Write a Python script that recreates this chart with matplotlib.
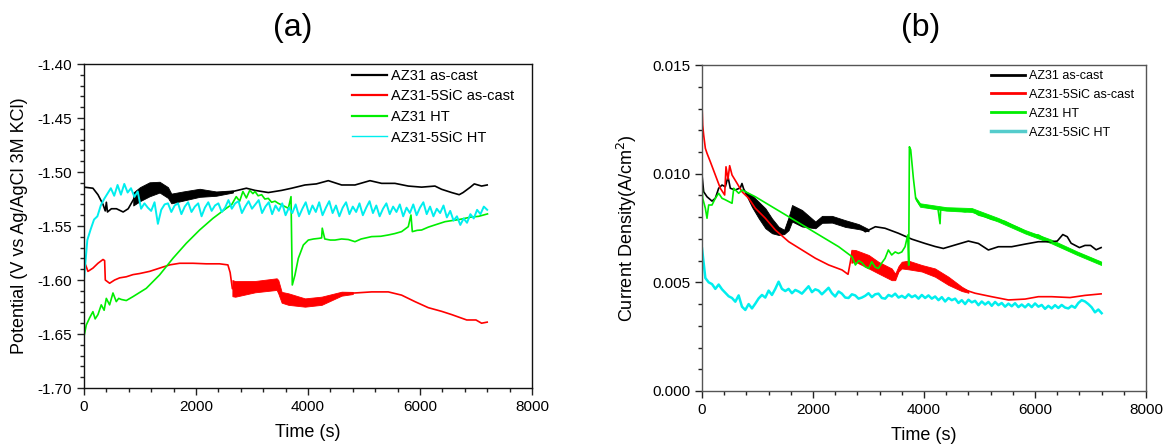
import numpy as np
import matplotlib
matplotlib.use('Agg')
from matplotlib import pyplot as plt, ticker
from matplotlib.lines import Line2D

plt.rcParams['font.family'] = ['Liberation Sans', 'DejaVu Sans']
plt.rcParams['axes.unicode_minus'] = False

labels = ['AZ31 as-cast', 'AZ31-5SiC as-cast', 'AZ31 HT', 'AZ31-5SiC HT']
colors = ['#000000', '#ff0000', '#00ee00', '#00eeee']

# ---------- (a) open circuit potential ----------
a_black_t = [0, 160, 250, 340, 380, 400, 420, 490, 580, 700, 790, 900, 1000, 1170, 1350,
             1500, 1560, 1770, 2065, 2360, 2660, 2900, 3054, 3292, 3530, 3708, 3946, 4150,
             4363, 4601, 4839, 5107, 5315, 5553, 5791, 6029, 6267, 6386, 6565, 6700, 6770,
             6900, 6970, 7100, 7200]
a_black_v = [-1.514, -1.515, -1.521, -1.530, -1.536, -1.528, -1.537, -1.534, -1.534, -1.537,
             -1.534, -1.524, -1.521, -1.516, -1.514, -1.519, -1.524, -1.522, -1.519, -1.520,
             -1.518, -1.515, -1.517, -1.519, -1.517, -1.515, -1.512, -1.511, -1.508, -1.512,
             -1.512, -1.508, -1.5105, -1.5105, -1.513, -1.514, -1.513, -1.516, -1.519, -1.521,
             -1.519, -1.514, -1.511, -1.513, -1.512]
a_black_band_t = [880, 1000, 1170, 1350, 1500, 1560, 1770, 2065, 2360, 2660]
a_black_band_lo = [-1.531, -1.527, -1.5225, -1.519, -1.524, -1.529, -1.5265, -1.523, -1.522, -1.519]
a_black_band_hi = [-1.519, -1.514, -1.5095, -1.509, -1.514, -1.520, -1.518, -1.5155, -1.518, -1.517]

a_red_t = [0, 30, 71, 160, 250, 340, 369, 381, 458, 547, 637, 756, 875, 994, 1172, 1350,
           1529, 1708, 1946, 2184, 2422, 2570, 2610, 2650, 2660, 3054, 3441, 3480, 3530,
           3650, 3946, 4244, 4601, 4839, 5137, 5434, 5672, 5910, 6148, 6386, 6565, 6835,
           7000, 7100, 7200]
a_red_v = [-1.589, -1.586, -1.592, -1.589, -1.5845, -1.581, -1.582, -1.600, -1.603, -1.600,
           -1.598, -1.597, -1.595, -1.594, -1.592, -1.589, -1.586, -1.5845, -1.5845, -1.585,
           -1.585, -1.586, -1.593, -1.608, -1.608, -1.606, -1.604, -1.610, -1.616, -1.6175,
           -1.621, -1.619, -1.6125, -1.612, -1.611, -1.611, -1.614, -1.620, -1.6256, -1.629,
           -1.632, -1.637, -1.637, -1.640, -1.639]
a_red_band_t = [2650, 2700, 3054, 3441, 3470, 3530, 3650, 3946, 4244, 4601, 4800]
a_red_band_lo = [-1.615, -1.6155, -1.6114, -1.6092, -1.6125, -1.621, -1.623, -1.6247, -1.623,
                 -1.6145, -1.613]
a_red_band_hi = [-1.600, -1.601, -1.6009, -1.5984, -1.600, -1.611, -1.6123, -1.617, -1.6154,
                 -1.6108, -1.611]

a_green_t = [0, 42, 101, 160, 200, 250, 309, 360, 399, 458, 518, 577, 620, 666, 756, 875,
             1113, 1350, 1589, 1827, 2065, 2303, 2541, 2640, 2719, 2780, 2838, 2900, 2960,
             3017, 3054, 3110, 3173, 3230, 3292, 3350, 3411, 3470, 3530, 3590, 3649, 3697,
             3720, 3768, 3827, 3917, 4006, 4100, 4200, 4244, 4255, 4300, 4400, 4482, 4600,
             4720, 4839, 4950, 5137, 5300, 5434, 5550, 5672, 5791, 5839, 5863, 5950, 6029,
             6150, 6267, 6446, 6565, 6700, 6902, 7050, 7205]
a_green_v = [-1.6524, -1.6416, -1.635, -1.6293, -1.636, -1.632, -1.623, -1.628, -1.617, -1.623,
             -1.612, -1.620, -1.617, -1.618, -1.619, -1.6154, -1.6077, -1.5953, -1.5799, -1.566,
             -1.5537, -1.5429, -1.5336, -1.530, -1.5228, -1.527, -1.518, -1.524, -1.517, -1.520,
             -1.518, -1.522, -1.521, -1.525, -1.5244, -1.528, -1.527, -1.529, -1.5305, -1.532,
             -1.5336, -1.5228, -1.6046, -1.5953, -1.580, -1.5676, -1.563, -1.562, -1.5614, -1.561,
             -1.552, -1.562, -1.563, -1.563, -1.562, -1.5625, -1.5645, -1.562, -1.5598, -1.5595,
             -1.5583, -1.557, -1.5552, -1.5506, -1.5398, -1.5552, -1.554, -1.5537, -1.551, -1.549,
             -1.546, -1.545, -1.544, -1.5418, -1.541, -1.5388]

# cyan trace is sampled every 60 s
a_cyan_t = np.arange(0, 7201, 60)
a_cyan_v = [-1.600, -1.563, -1.553, -1.544, -1.541, -1.531, -1.525, -1.520, -1.515, -1.522,
            -1.512, -1.521, -1.511, -1.519, -1.515, -1.523, -1.518, -1.534, -1.529, -1.533,
            -1.536, -1.528, -1.548, -1.535, -1.530, -1.529, -1.537, -1.531, -1.529, -1.539,
            -1.532, -1.528, -1.537, -1.532, -1.529, -1.541, -1.533, -1.528, -1.536, -1.531,
            -1.529, -1.537, -1.533, -1.526, -1.534, -1.529, -1.527, -1.538, -1.532, -1.527,
            -1.534, -1.530, -1.526, -1.538, -1.532, -1.528, -1.539, -1.531, -1.536, -1.529,
            -1.540, -1.533, -1.538, -1.530, -1.541, -1.534, -1.528, -1.539, -1.531, -1.537,
            -1.528, -1.540, -1.533, -1.527, -1.538, -1.531, -1.541, -1.533, -1.528, -1.539,
            -1.532, -1.537, -1.529, -1.540, -1.533, -1.527, -1.538, -1.531, -1.541, -1.534,
            -1.529, -1.539, -1.532, -1.537, -1.530, -1.541, -1.533, -1.538, -1.530, -1.540,
            -1.533, -1.528, -1.539, -1.532, -1.541, -1.534, -1.538, -1.531, -1.542, -1.536,
            -1.545, -1.541, -1.549, -1.543, -1.547, -1.539, -1.543, -1.535, -1.539, -1.532,
            -1.535]

# ---------- (b) current density ----------
b_black_t = [0, 30, 90, 180, 240, 300, 360, 420, 468, 510, 600, 690, 720, 750, 811, 900,
             1021, 1141, 1261, 1381, 1502, 1562, 1622, 1700, 1802, 1920, 2042, 2162, 2342,
             2583, 2823, 2943, 3123, 3297, 3538, 3778, 4018, 4200, 4348, 4559, 4799, 4979,
             5159, 5339, 5579, 5820, 6060, 6300, 6400, 6500, 6580, 6650, 6800, 6900, 7000,
             7100, 7190]
b_black_i = [0.00994, 0.00917, 0.00894, 0.00874, 0.00887, 0.00933, 0.00948, 0.00940, 0.00986,
             0.00933, 0.00925, 0.00935, 0.00955, 0.00930, 0.00902, 0.00874, 0.00833, 0.00795,
             0.00759, 0.00738, 0.00733, 0.00779, 0.00818, 0.00810, 0.00795, 0.00770, 0.00765,
             0.00791, 0.00790, 0.00770, 0.00755, 0.00733, 0.00756, 0.00749, 0.00726, 0.00699,
             0.00679, 0.00665, 0.00656, 0.00672, 0.00690, 0.00679, 0.00649, 0.00664, 0.00664,
             0.00676, 0.00687, 0.00687, 0.00690, 0.00720, 0.00710, 0.00680, 0.00660, 0.00670,
             0.00670, 0.00650, 0.00660]
b_black_band_t = [780, 900, 1021, 1141, 1261, 1381, 1480, 1560, 1622, 1802, 2042, 2162, 2342,
                  2583, 2823, 3000]
b_black_band_lo = [0.00910, 0.00847, 0.00795, 0.00749, 0.00726, 0.00718, 0.00722, 0.00740,
                   0.00780, 0.00757, 0.00749, 0.00774, 0.00775, 0.00755, 0.00745, 0.00735]
b_black_band_hi = [0.00920, 0.00901, 0.00871, 0.00841, 0.00794, 0.00756, 0.00742, 0.00800,
                   0.00856, 0.00833, 0.00780, 0.00806, 0.00806, 0.00786, 0.00768, 0.00745]

b_red_t = [0, 12, 30, 60, 90, 150, 240, 330, 408, 432, 468, 498, 541, 631, 721, 841, 961,
           1141, 1321, 1562, 1802, 2042, 2282, 2523, 2631, 2673, 2703, 2763, 3003, 3177,
           3417, 3480, 3598, 3718, 3958, 4198, 4439, 4679, 4919, 5219, 5519, 5820, 6060,
           6300, 6630, 6900, 7190]
b_red_i = [0.01316, 0.01224, 0.01178, 0.01117, 0.01094, 0.01055, 0.00994, 0.00933, 0.00902,
           0.01032, 0.00975, 0.01037, 0.00994, 0.00956, 0.00917, 0.00887, 0.00841, 0.00795,
           0.00741, 0.00687, 0.00649, 0.00611, 0.00580, 0.00557, 0.00537, 0.00595, 0.00641,
           0.00622, 0.00595, 0.00568, 0.00537, 0.00520, 0.00580, 0.00580, 0.00565, 0.00545,
           0.00507, 0.00470, 0.00450, 0.00434, 0.00419, 0.00423, 0.00434, 0.00434, 0.00430,
           0.00440, 0.00447]
b_red_band_t = [2690, 2763, 3003, 3177, 3417, 3480, 3540, 3598, 3718, 3958, 4198, 4439, 4679,
                4800]
b_red_band_lo = [0.00590, 0.00595, 0.00564, 0.00541, 0.00510, 0.00510, 0.00550, 0.00564,
                 0.00560, 0.00550, 0.00526, 0.00488, 0.00460, 0.00452]
b_red_band_hi = [0.00650, 0.00649, 0.00626, 0.00595, 0.00564, 0.00540, 0.00575, 0.00595,
                 0.00600, 0.00580, 0.00564, 0.00526, 0.00480, 0.00462]

b_green_t = [0, 12, 60, 90, 120, 180, 240, 300, 360, 420, 480, 541, 571, 661, 721, 961,
             1261, 1562, 1862, 2162, 2462, 2703, 2763, 2823, 2883, 2940, 3003, 3057, 3120,
             3177, 3240, 3297, 3357, 3417, 3480, 3538, 3600, 3658, 3706, 3724, 3736, 3760,
             3808, 3850, 3928, 4020, 4138, 4250, 4288, 4300, 4400, 4499, 4620, 4739, 4859,
             4980, 5099, 5220, 5339, 5460, 5579, 5700, 5820, 5940, 6060, 6180, 6300, 6500,
             6760, 7000, 7190]
b_green_i = [0.00956, 0.00887, 0.00841, 0.00795, 0.00856, 0.00856, 0.00887, 0.00910, 0.00887,
             0.00880, 0.00872, 0.00864, 0.00933, 0.00910, 0.00925, 0.00894, 0.00848, 0.00802,
             0.00756, 0.00710, 0.00664, 0.00618, 0.00580, 0.00600, 0.00590, 0.00572, 0.00564,
             0.00595, 0.00570, 0.00564, 0.00590, 0.00610, 0.00649, 0.00626, 0.00640, 0.00633,
             0.00640, 0.00664, 0.00718, 0.00579, 0.01124, 0.01110, 0.00979, 0.00886, 0.00856,
             0.00850, 0.00841, 0.00840, 0.00770, 0.00840, 0.00838, 0.00833, 0.00830, 0.00825,
             0.00833, 0.00810, 0.00802, 0.00790, 0.00787, 0.00780, 0.00764, 0.00750, 0.00733,
             0.00720, 0.00718, 0.00700, 0.00687, 0.00660, 0.00634, 0.00610, 0.00588]
b_green_band_t = [3850, 3928, 4400, 4860, 5340, 5820, 6300, 6760, 7190]
b_green_band_lo = [0.00880, 0.00848, 0.00830, 0.00824, 0.00779, 0.00725, 0.00679, 0.00626, 0.00580]
b_green_band_hi = [0.00892, 0.00864, 0.00846, 0.00842, 0.00796, 0.00741, 0.00696, 0.00642, 0.00596]

b_cyan_t = np.arange(0, 7201, 60)
b_cyan_i = [0.00656, 0.00520, 0.00500, 0.00492, 0.00470, 0.00490, 0.00468, 0.00452, 0.00436, 0.00428,
            0.00411, 0.00440, 0.00388, 0.00373, 0.00400, 0.00380, 0.00402, 0.00426, 0.00442, 0.00430,
            0.00462, 0.00442, 0.00470, 0.00503, 0.00470, 0.00460, 0.00470, 0.00450, 0.00465, 0.00458,
            0.00448, 0.00465, 0.00482, 0.00455, 0.00468, 0.00462, 0.00445, 0.00460, 0.00475, 0.00450,
            0.00435, 0.00458, 0.00448, 0.00430, 0.00428, 0.00445, 0.00440, 0.00425, 0.00430, 0.00438,
            0.00450, 0.00432, 0.00445, 0.00448, 0.00428, 0.00425, 0.00442, 0.00435, 0.00448, 0.00430,
            0.00438, 0.00428, 0.00445, 0.00432, 0.00440, 0.00425, 0.00442, 0.00428, 0.00440, 0.00425,
            0.00435, 0.00418, 0.00432, 0.00412, 0.00428, 0.00418, 0.00425, 0.00405, 0.00418, 0.00400,
            0.00420, 0.00408, 0.00415, 0.00395, 0.00412, 0.00398, 0.00410, 0.00392, 0.00410, 0.00395,
            0.00405, 0.00388, 0.00402, 0.00390, 0.00404, 0.00386, 0.00398, 0.00385, 0.00400, 0.00386,
            0.00403, 0.00388, 0.00396, 0.00378, 0.00392, 0.00380, 0.00395, 0.00382, 0.00396, 0.00384,
            0.00380, 0.00392, 0.00383, 0.00405, 0.00418, 0.00412, 0.00400, 0.00385, 0.00362, 0.00375,
            0.00358]


def setup_axes(ax, ylim, ymajor, yminor, yfmt, spine_color):
    ax.set_xlim(0, 8000)
    ax.set_ylim(*ylim)
    ax.xaxis.set_major_locator(ticker.MultipleLocator(2000))
    ax.xaxis.set_minor_locator(ticker.MultipleLocator(400))
    ax.yaxis.set_major_locator(ticker.MultipleLocator(ymajor))
    ax.yaxis.set_minor_locator(ticker.MultipleLocator(yminor))
    ax.yaxis.set_major_formatter(ticker.FormatStrFormatter(yfmt))
    ax.tick_params(which='both', direction='out', top=False, right=False,
                   labelsize=11, width=1, color='#222222')
    ax.tick_params(which='major', length=5)
    ax.tick_params(which='minor', length=3)
    for s in ax.spines.values():
        s.set_color(spine_color)
        s.set_linewidth(1.0)
    ax.set_xlabel('Time (s)', fontsize=13)
    ax.xaxis.set_label_coords(0.5, -0.136)
    ax.xaxis.label.set_verticalalignment('center')


def band(ax, t, lo, hi, color):
    ax.fill_between(t, lo, hi, color=color, linewidth=0.6, edgecolor=color)


fig = plt.figure(figsize=(11.71, 4.44), dpi=100)
ax_a = fig.add_axes([0.0717, 0.1261, 0.3826, 0.7297])
ax_b = fig.add_axes([0.5995, 0.1194, 0.3792, 0.7340])

# (a)
band(ax_a, a_black_band_t, a_black_band_lo, a_black_band_hi, colors[0])
ax_a.plot(a_black_t, a_black_v, color=colors[0], lw=1.2)
band(ax_a, a_red_band_t, a_red_band_lo, a_red_band_hi, colors[1])
ax_a.plot(a_red_t, a_red_v, color=colors[1], lw=1.2)
ax_a.plot(a_green_t, a_green_v, color=colors[2], lw=1.2)
ax_a.plot(a_cyan_t, a_cyan_v, color=colors[3], lw=1.4)
setup_axes(ax_a, (-1.70, -1.40), 0.05, 0.01, '%.2f', '#111111')
ax_a.set_ylabel('Potential (V vs Ag/AgCl 3M KCl)', fontsize=13)
ax_a.yaxis.set_label_coords(-0.143, 0.5)
ax_a.yaxis.label.set_verticalalignment('center')
handles_a = [Line2D([], [], color=c, lw=w) for c, w in zip(colors, [1.6, 1.6, 1.6, 1.0])]
ax_a.legend(handles_a, labels, loc='upper left', bbox_to_anchor=(0.598, 0.985),
            frameon=False, fontsize=10.5, handlelength=2.4, handletextpad=0.3,
            labelspacing=0.45, borderaxespad=0, borderpad=0)
fig.text(293 / 1171, 1 - 28 / 444, '(a)', fontsize=23, ha='center', va='center')

# (b)
band(ax_b, b_black_band_t, b_black_band_lo, b_black_band_hi, colors[0])
ax_b.plot(b_black_t, b_black_i, color=colors[0], lw=1.2)
band(ax_b, b_red_band_t, b_red_band_lo, b_red_band_hi, colors[1])
ax_b.plot(b_red_t, b_red_i, color=colors[1], lw=1.2)
band(ax_b, b_green_band_t, b_green_band_lo, b_green_band_hi, colors[2])
ax_b.plot(b_green_t, b_green_i, color=colors[2], lw=1.2)
ax_b.plot(b_cyan_t, b_cyan_i, color=colors[3], lw=1.8)
setup_axes(ax_b, (0, 0.015), 0.005, 0.001, '%.3f', '#555555')
ax_b.set_ylabel('Current Density(A/cm$^2$)', fontsize=13)
ax_b.yaxis.set_label_coords(-0.169, 0.5)
ax_b.yaxis.label.set_verticalalignment('center')
handles_b = [Line2D([], [], color=c, lw=w) for c, w in zip(colors, [2, 2, 2, 2.5])]
handles_b[3].set_color('#55cccc')
ax_b.legend(handles_b, labels, loc='upper left', bbox_to_anchor=(0.651, 0.985),
            frameon=False, fontsize=9, handlelength=2.7, handletextpad=0.3,
            labelspacing=0.55, borderaxespad=0, borderpad=0)
fig.text(921 / 1171, 1 - 28 / 444, '(b)', fontsize=23, ha='center', va='center')

fig.savefig('out.png', dpi=100)
